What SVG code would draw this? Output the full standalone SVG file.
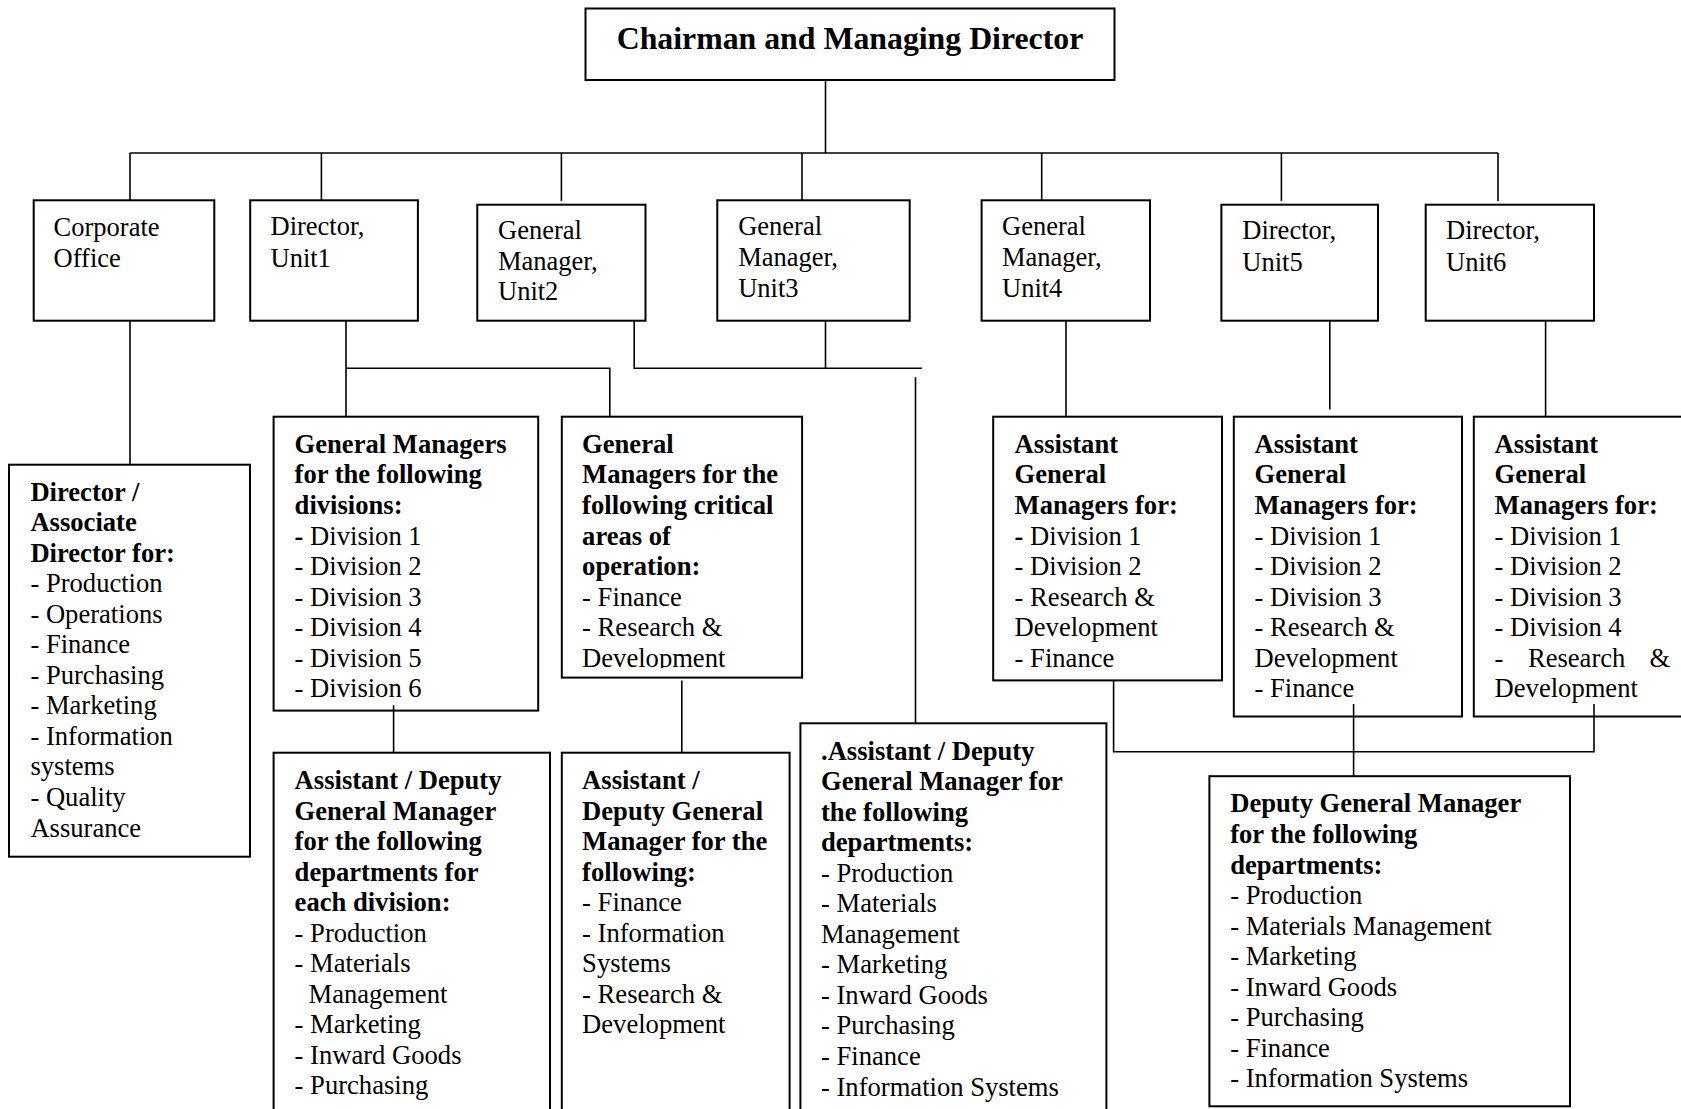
<svg xmlns="http://www.w3.org/2000/svg" width="1681" height="1109" viewBox="0 0 1681 1109">
  <style>
    .box{fill:#fff;stroke:#000;stroke-width:2}
    .ln{fill:none;stroke:#000;stroke-width:1.6}
    text{font-family:"Liberation Serif","Times New Roman",serif;font-size:26.6px;fill:#000}
    .top text{font-size:26.5px}
    .b{font-weight:bold}
    .title{font-size:31.8px;font-weight:bold}
  </style>
  <defs>
    <clipPath id="clipCrit"><rect x="560" y="416" width="245" height="252"/></clipPath>
  </defs>
  <rect width="1681" height="1109" fill="#fff"/>

  <!-- Chairman -->
  <g id="cmd">
    <rect class="box" x="585.5" y="8.5" width="529" height="71.5"/>
    <text class="title" x="850" y="49.3" text-anchor="middle">Chairman and Managing Director</text>
  </g>

  <!-- Unit level -->
  <g class="top">
    <g id="corporate-office">
      <rect class="box" x="33.7" y="200.3" width="180.6" height="120.4"/>
      <text x="53.6" y="236">Corporate</text>
      <text x="53.6" y="267">Office</text>
    </g>
    <g id="director-unit1">
      <rect class="box" x="250.2" y="200.3" width="167.7" height="120.4"/>
      <text x="270.5" y="235">Director,</text>
      <text x="270.5" y="266.5">Unit1</text>
    </g>
    <g id="gm-unit2">
      <rect class="box" x="477.3" y="204.7" width="168.2" height="116"/>
      <text x="498" y="238.5">General</text>
      <text x="498" y="269.5">Manager,</text>
      <text x="498" y="300.3">Unit2</text>
    </g>
    <g id="gm-unit3">
      <rect class="box" x="717.3" y="200.3" width="192.4" height="120.4"/>
      <text x="738.2" y="235">General</text>
      <text x="738.2" y="265.8">Manager,</text>
      <text x="738.2" y="296.7">Unit3</text>
    </g>
    <g id="gm-unit4">
      <rect class="box" x="981.6" y="200.3" width="168.4" height="120.4"/>
      <text x="1002" y="235">General</text>
      <text x="1002" y="265.8">Manager,</text>
      <text x="1002" y="296.7">Unit4</text>
    </g>
    <g id="director-unit5">
      <rect class="box" x="1221.4" y="204.7" width="156.6" height="116"/>
      <text x="1242.3" y="239">Director,</text>
      <text x="1242.3" y="270.7">Unit5</text>
    </g>
    <g id="director-unit6">
      <rect class="box" x="1425.7" y="204.7" width="168.3" height="116"/>
      <text x="1446" y="239">Director,</text>
      <text x="1446" y="270.7">Unit6</text>
    </g>
  </g>

  <!-- Corporate office functions -->
  <g id="director-associate">
    <rect class="box" x="9" y="464.7" width="241" height="392"/>
    <text class="b" x="30.4" y="500.5">Director /</text>
    <text class="b" x="30.4" y="531">Associate</text>
    <text class="b" x="30.4" y="561.6">Director for:</text>
    <text x="30.4" y="592.1">- Production</text>
    <text x="30.4" y="622.7">- Operations</text>
    <text x="30.4" y="653.2">- Finance</text>
    <text x="30.4" y="683.8">- Purchasing</text>
    <text x="30.4" y="714.3">- Marketing</text>
    <text x="30.4" y="744.9">- Information</text>
    <text x="30.4" y="775.4">systems</text>
    <text x="30.4" y="806">- Quality</text>
    <text x="30.4" y="836.5">Assurance</text>
  </g>

  <!-- Unit 1 -->
  <g id="gm-divisions">
    <rect class="box" x="273.6" y="416.7" width="264.6" height="293.9"/>
    <text class="b" x="294.6" y="452.9">General Managers</text>
    <text class="b" x="294.6" y="483.4">for the following</text>
    <text class="b" x="294.6" y="514">divisions:</text>
    <text x="294.6" y="544.5"><tspan class="b">-</tspan> Division 1</text>
    <text x="294.6" y="575">- Division 2</text>
    <text x="294.6" y="605.6">- Division 3</text>
    <text x="294.6" y="636.1">- Division 4</text>
    <text x="294.6" y="666.7">- Division 5</text>
    <text x="294.6" y="697.2">- Division 6</text>
  </g>
  <g id="gm-critical-areas">
    <rect class="box" x="561.8" y="416.7" width="240.3" height="260.9"/>
    <g clip-path="url(#clipCrit)">
      <text class="b" x="582.1" y="452.9">General</text>
      <text class="b" x="582.1" y="483.4">Managers for the</text>
      <text class="b" x="582.1" y="514">following critical</text>
      <text class="b" x="582.1" y="544.5">areas of</text>
      <text class="b" x="582.1" y="575">operation:</text>
      <text x="582.1" y="605.6">- Finance</text>
      <text x="582.1" y="636.1">- Research &amp;</text>
      <text x="582.1" y="666.7">Development</text>
    </g>
  </g>
  <g id="adgm-division-departments">
    <rect class="box" x="273.6" y="752.7" width="276.4" height="380"/>
    <text class="b" x="294.6" y="788.9">Assistant / Deputy</text>
    <text class="b" x="294.6" y="819.5">General Manager</text>
    <text class="b" x="294.6" y="850">for the following</text>
    <text class="b" x="294.6" y="880.6">departments for</text>
    <text class="b" x="294.6" y="911.1">each division:</text>
    <text x="294.6" y="941.7">- Production</text>
    <text x="294.6" y="972.2">- Materials</text>
    <text x="308.5" y="1002.8">Management</text>
    <text x="294.6" y="1033.3">- Marketing</text>
    <text x="294.6" y="1063.9">- Inward Goods</text>
    <text x="294.6" y="1094.4">- Purchasing</text>
  </g>
  <g id="adgm-critical">
    <rect class="box" x="561.8" y="752.7" width="227.8" height="380"/>
    <text class="b" x="582.1" y="788.9">Assistant /</text>
    <text class="b" x="582.1" y="819.5">Deputy General</text>
    <text class="b" x="582.1" y="850">Manager for the</text>
    <text class="b" x="582.1" y="880.6">following:</text>
    <text x="582.1" y="911.1">- Finance</text>
    <text x="582.1" y="941.7">- Information</text>
    <text x="582.1" y="972.2">Systems</text>
    <text x="582.1" y="1002.8">- Research &amp;</text>
    <text x="582.1" y="1033.3">Development</text>
  </g>

  <!-- Units 2 and 3 -->
  <g id="adgm-departments">
    <rect class="box" x="800.4" y="723.3" width="306" height="400"/>
    <text class="b" x="821" y="759.5">.Assistant / Deputy</text>
    <text class="b" x="821" y="790">General Manager for</text>
    <text class="b" x="821" y="820.6">the following</text>
    <text class="b" x="821" y="851.1">departments:</text>
    <text x="821" y="881.7">- Production</text>
    <text x="821" y="912.2">- Materials</text>
    <text x="821" y="942.8">Management</text>
    <text x="821" y="973.3">- Marketing</text>
    <text x="821" y="1003.9">- Inward Goods</text>
    <text x="821" y="1034.4">- Purchasing</text>
    <text x="821" y="1065">- Finance</text>
    <text x="821" y="1095.5">- Information Systems</text>
  </g>

  <!-- Units 4, 5 and 6 -->
  <g id="agm-unit4">
    <rect class="box" x="993.2" y="416.7" width="228.8" height="263.7"/>
    <text class="b" x="1014.6" y="452.9">Assistant</text>
    <text class="b" x="1014.6" y="483.4">General</text>
    <text class="b" x="1014.6" y="514">Managers for:</text>
    <text x="1014.6" y="544.5"><tspan class="b">-</tspan> Division 1</text>
    <text x="1014.6" y="575">- Division 2</text>
    <text x="1014.6" y="605.6">- Research &amp;</text>
    <text x="1014.6" y="636.1">Development</text>
    <text x="1014.6" y="666.7">- Finance</text>
  </g>
  <g id="agm-unit5">
    <rect class="box" x="1233.8" y="416.7" width="228.2" height="299.8"/>
    <text class="b" x="1254.5" y="452.9">Assistant</text>
    <text class="b" x="1254.5" y="483.4">General</text>
    <text class="b" x="1254.5" y="514">Managers for:</text>
    <text x="1254.5" y="544.5">- Division 1</text>
    <text x="1254.5" y="575">- Division 2</text>
    <text x="1254.5" y="605.6">- Division 3</text>
    <text x="1254.5" y="636.1">- Research &amp;</text>
    <text x="1254.5" y="666.7">Development</text>
    <text x="1254.5" y="697.2">- Finance</text>
  </g>
  <g id="agm-unit6">
    <rect class="box" x="1473.8" y="416.7" width="220" height="299.8"/>
    <text class="b" x="1494.6" y="452.9">Assistant</text>
    <text class="b" x="1494.6" y="483.4">General</text>
    <text class="b" x="1494.6" y="514">Managers for:</text>
    <text x="1494.6" y="544.5">- Division 1</text>
    <text x="1494.6" y="575">- Division 2</text>
    <text x="1494.6" y="605.6">- Division 3</text>
    <text x="1494.6" y="636.1">- Division 4</text>
    <text y="666.7"><tspan x="1494.6">-</tspan><tspan x="1527.9">Research</tspan><tspan x="1649.5">&amp;</tspan></text>
    <text x="1494.6" y="697.2">Development</text>
  </g>
  <g id="dgm-departments">
    <rect class="box" x="1209.4" y="776.2" width="360.6" height="330.1"/>
    <text class="b" x="1230.2" y="812.4">Deputy General Manager</text>
    <text class="b" x="1230.2" y="843">for the following</text>
    <text class="b" x="1230.2" y="873.5">departments:</text>
    <text x="1230.2" y="904">- Production</text>
    <text x="1230.2" y="934.6">- Materials Management</text>
    <text x="1230.2" y="965.1">- Marketing</text>
    <text x="1230.2" y="995.7">- Inward Goods</text>
    <text x="1230.2" y="1026.2">- Purchasing</text>
    <text x="1230.2" y="1056.8">- Finance</text>
    <text x="1230.2" y="1087.3">- Information Systems</text>
  </g>

  <!-- Reporting lines -->
  <g id="connectors" class="ln">
    <path class="ln" d="M825.5 80 V153"/>
    <path class="ln" d="M130 153 H1498"/>
    <path class="ln" d="M130 153 V200.3 M321.4 153 V200.3 M561.4 153 V201 M802 153 V200.3 M1041.7 153 V200.3 M1281.4 153 V201 M1498 153 V201"/>
    <path class="ln" d="M130 320.7 V464.7"/>
    <path class="ln" d="M346 320.7 V416.7 M346 368.3 H609.8 V416.7"/>
    <path class="ln" d="M634.2 320.7 V368.3 H922 M825.5 320.7 V368.3"/>
    <path class="ln" d="M915.5 377.3 V723.3"/>
    <path class="ln" d="M1066 320.7 V416.7"/>
    <path class="ln" d="M1329.8 320.7 V409.5"/>
    <path class="ln" d="M1545.6 320.7 V416.7"/>
    <path class="ln" d="M1113.6 680.4 V751.8 H1594 V704"/>
    <path class="ln" d="M1353.6 704 V776.2"/>
    <path class="ln" d="M393.6 705.2 V752.7"/>
    <path class="ln" d="M681.8 680.4 V752.7"/>
  </g>
</svg>
